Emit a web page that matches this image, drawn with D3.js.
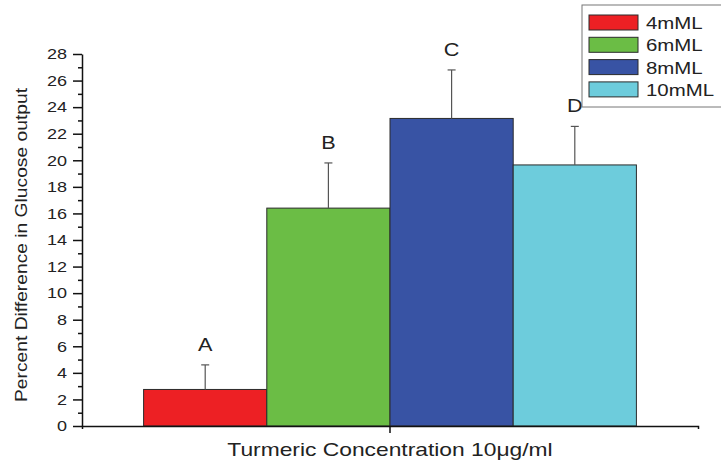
<!DOCTYPE html>
<html>
<head>
<meta charset="utf-8">
<script src="https://cdn.jsdelivr.net/npm/d3@7"></script>
<style>
  html, body { margin: 0; padding: 0; background: #fff; }
  svg { display: block; font-family: "Liberation Sans", Arial, sans-serif; }
</style>
</head>
<body>
<svg id="chart" width="721" height="465"></svg>
<script>
// Glucose output difference for each medium concentration
const groupLabel = "Turmeric Concentration 10\u03bcg/ml";
const series = ["4mML", "6mML", "8mML", "10mML"];
const means = [2.75, 16.4, 23.15, 19.65];
const errors = [1.85, 3.4, 3.65, 2.9];
const letters = ["A", "B", "C", "D"];
const colors = ["#ED2024", "#6BBD45", "#3853A4", "#6DCCDC"];
const majorTicks = [0, 2, 4, 6, 8, 10, 12, 14, 16, 18, 20, 22, 24, 26, 28];
const minorTicks = [1, 3, 5, 7, 9, 11, 13, 15, 17, 19, 21, 23, 25, 27];
const yTitle = "Percent Difference in Glucose output";

const svg = d3.select("#chart");
const margin = { left: 82, right: 23, top: 54, bottom: 39 };
const W = 721, H = 465;
const ink = "#222";

// the typeface is set slightly wide, so text runs are stretched to width
function stretch(sel, wide = 1.2) {
  sel.each(function () {
    const w = this.getComputedTextLength();
    d3.select(this).attr("textLength", w * wide).attr("lengthAdjust", "spacingAndGlyphs");
  });
}

const y = d3.scaleLinear().domain([0, 28]).range([H - margin.bottom, margin.top]);
const x0 = d3.scaleBand().domain([groupLabel])
  .range([margin.left, W - margin.right]).paddingInner(0).paddingOuter(0.125);
const x1 = d3.scaleBand().domain(series).range([0, x0.bandwidth()]).padding(0);

// bars
const g = svg.append("g").attr("transform", `translate(${x0(groupLabel)},0)`);
g.selectAll("rect.bar").data(series).join("rect")
  .attr("class", "bar")
  .attr("x", d => x1(d))
  .attr("y", (d, i) => y(means[i]))
  .attr("width", x1.bandwidth())
  .attr("height", (d, i) => y(0) - y(means[i]))
  .attr("fill", (d, i) => colors[i])
  .attr("stroke", "#2b2b2b")
  .attr("stroke-width", 1);

// error bars (upper only) with group letters
const capHalf = 4;
series.forEach((s, i) => {
  const cx = x1(s) + x1.bandwidth() / 2;
  const top = y(means[i] + errors[i]);
  g.append("line").attr("x1", cx).attr("x2", cx)
    .attr("y1", y(means[i])).attr("y2", top)
    .attr("stroke", "#555").attr("stroke-width", 1.2);
  g.append("line").attr("x1", cx - capHalf).attr("x2", cx + capHalf)
    .attr("y1", top).attr("y2", top)
    .attr("stroke", "#555").attr("stroke-width", 1.2);
  g.append("text").attr("x", cx).attr("y", top - 14)
    .attr("text-anchor", "middle").attr("font-size", 18).attr("fill", ink)
    .text(letters[i]).call(stretch);
});

// x axis
const xAxis = svg.append("g").attr("transform", `translate(0,${y(0)})`)
  .call(d3.axisBottom(x0).tickFormat("").tickSize(7).tickSizeOuter(3));
xAxis.selectAll("path, line").attr("stroke", "#111").attr("stroke-width", 1.5);

svg.append("text").attr("x", x0(groupLabel) + x0.bandwidth() / 2).attr("y", H - 9)
  .attr("text-anchor", "middle").attr("font-size", 19).attr("fill", ink)
  .text(groupLabel).call(stretch);

// y axis: minor then major
const yMinor = svg.append("g").attr("transform", `translate(${margin.left},0)`)
  .call(d3.axisLeft(y).tickValues(minorTicks).tickFormat("").tickSize(4).tickSizeOuter(0));
yMinor.select(".domain").remove();
yMinor.selectAll("line").attr("stroke", "#111").attr("stroke-width", 1.5);

const yAxis = svg.append("g").attr("transform", `translate(${margin.left},0)`)
  .call(d3.axisLeft(y).tickValues(majorTicks).tickSize(9).tickSizeOuter(0).tickPadding(6));
yAxis.selectAll("path, line").attr("stroke", "#111").attr("stroke-width", 1.5);
yAxis.selectAll("text").attr("font-size", 15).attr("fill", ink)
  .attr("font-family", "Liberation Sans, Arial, sans-serif").call(stretch);

svg.append("text")
  .attr("transform", `translate(27,${(y(0) + y(28)) / 2 + 5}) rotate(-90)`)
  .attr("text-anchor", "middle").attr("font-size", 17).attr("fill", ink)
  .attr("textLength", 314).attr("lengthAdjust", "spacingAndGlyphs")
  .text(yTitle);

// legend
const lg = svg.append("g").attr("transform", "translate(582,5)");
lg.append("rect").attr("x", 0).attr("y", 0).attr("width", 150).attr("height", 102)
  .attr("fill", "#fff").attr("stroke", "#777").attr("stroke-width", 1);
series.forEach((s, i) => {
  const ry = 10 + i * 22.3;
  lg.append("rect").attr("x", 7).attr("y", ry).attr("width", 49).attr("height", 15)
    .attr("fill", colors[i]).attr("stroke", "#2b2b2b").attr("stroke-width", 1);
  lg.append("text").attr("x", 64).attr("y", ry + 14)
    .attr("font-size", 17).attr("fill", ink).text(s).call(stretch);
});
</script>
</body>
</html>
